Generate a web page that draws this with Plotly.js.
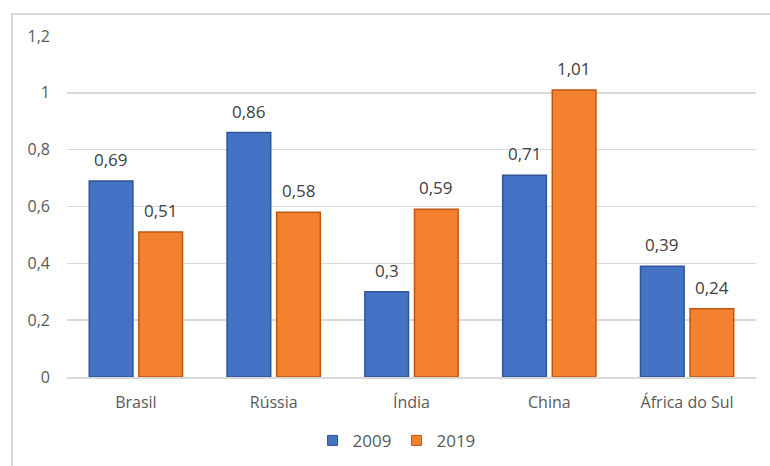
<!DOCTYPE html>
<html>
<head>
<meta charset="utf-8">
<script src="https://cdn.plot.ly/plotly-3.0.1.min.js"></script>
<style>
  html, body { margin: 0; padding: 0; background: #ffffff; overflow: hidden; }
  #frame { position: absolute; left: 11px; top: 13px; width: 780px; height: 480px;
           border-left: 2px solid #d9d9d9; border-top: 2px solid #d9d9d9; box-sizing: border-box; }
  #chart { position: absolute; left: 0; top: 0; width: 770px; height: 466px; }
</style>
</head>
<body>
<div id="frame"></div>
<div id="chart"></div>
<script>
// Países do BRICS e valores por ano
const paises = ['Brasil', 'Rússia', 'Índia', 'China', 'África do Sul'];
const valores2009 = [0.69, 0.86, 0.30, 0.71, 0.39];
const valores2019 = [0.51, 0.58, 0.59, 1.01, 0.24];
const anos = ['2009', '2019'];
const yTicks = [0, 0.2, 0.4, 0.6, 0.8, 1, 1.2];

const bargap = 0.28;
const fmt = v => String(v).replace('.', ',');

const series = [
  { name: anos[0], y: valores2009, fill: '#4472c4', edge: '#2f5597' },
  { name: anos[1], y: valores2019, fill: '#f4812f', edge: '#c0560f' }
];

const traces = series.map(s => ({
  type: 'bar',
  name: s.name,
  x: paises,
  y: s.y,
  marker: { color: s.fill, line: { color: s.edge, width: 1.5 } },
  showlegend: false,
  hoverinfo: 'x+y'
}));

// Entradas da legenda com marcadores quadrados pequenos
series.forEach(s => {
  traces.push({
    type: 'scatter', mode: 'markers', name: s.name,
    x: [null], y: [null],
    marker: { symbol: 'square', size: 10, color: s.fill, line: { color: s.edge, width: 1 } },
    showlegend: true, hoverinfo: 'skip'
  });
});

// Rótulos de dados acima de cada barra, centrados na barra do grupo
const slot = (1 - bargap) / series.length;
const annotations = [];
series.forEach((s, k) => {
  const off = (k - (series.length - 1) / 2) * slot;
  s.y.forEach((v, i) => {
    annotations.push({
      x: i + off, y: v, xref: 'x', yref: 'y',
      text: fmt(v), showarrow: false,
      yanchor: 'bottom', yshift: 8,
      font: { family: 'Open Sans, sans-serif', size: 17, color: '#404040' }
    });
  });
});

const layout = {
  width: 770, height: 466,
  margin: { l: 67, r: 14, t: 36, b: 89 },
  paper_bgcolor: 'rgba(0,0,0,0)',
  plot_bgcolor: 'rgba(0,0,0,0)',
  separators: ',.',
  barmode: 'group',
  bargap: bargap,
  bargroupgap: 0.12,
  font: { family: 'Open Sans, sans-serif', size: 16, color: '#595959' },
  xaxis: {
    type: 'category',
    showgrid: false, zeroline: false,
    showline: true, linecolor: '#d9d9d9', linewidth: 1.5,
    ticks: '', ticklabelstandoff: 10,
    tickfont: { size: 16, color: '#595959' },
    range: [-0.5, paises.length - 0.5],
    automargin: false,
    fixedrange: true
  },
  yaxis: {
    range: [0, 1.2],
    tickvals: yTicks,
    ticktext: yTicks.map(fmt),
    showgrid: true, gridcolor: '#d9d9d9', gridwidth: 1.5,
    zeroline: false, showline: false, ticks: '',
    ticklabelstandoff: 16,
    tickfont: { size: 16, color: '#595959' },
    automargin: false,
    fixedrange: true
  },
  showlegend: true,
  legend: {
    orientation: 'h',
    xref: 'container', yref: 'container',
    x: 0.515, xanchor: 'center', y: 0.054, yanchor: 'middle',
    font: { size: 17, color: '#595959' },
    itemwidth: 30
  },
  annotations: annotations
};

Plotly.newPlot('chart', traces, layout, { displayModeBar: false, staticPlot: true });
</script>
</body>
</html>
